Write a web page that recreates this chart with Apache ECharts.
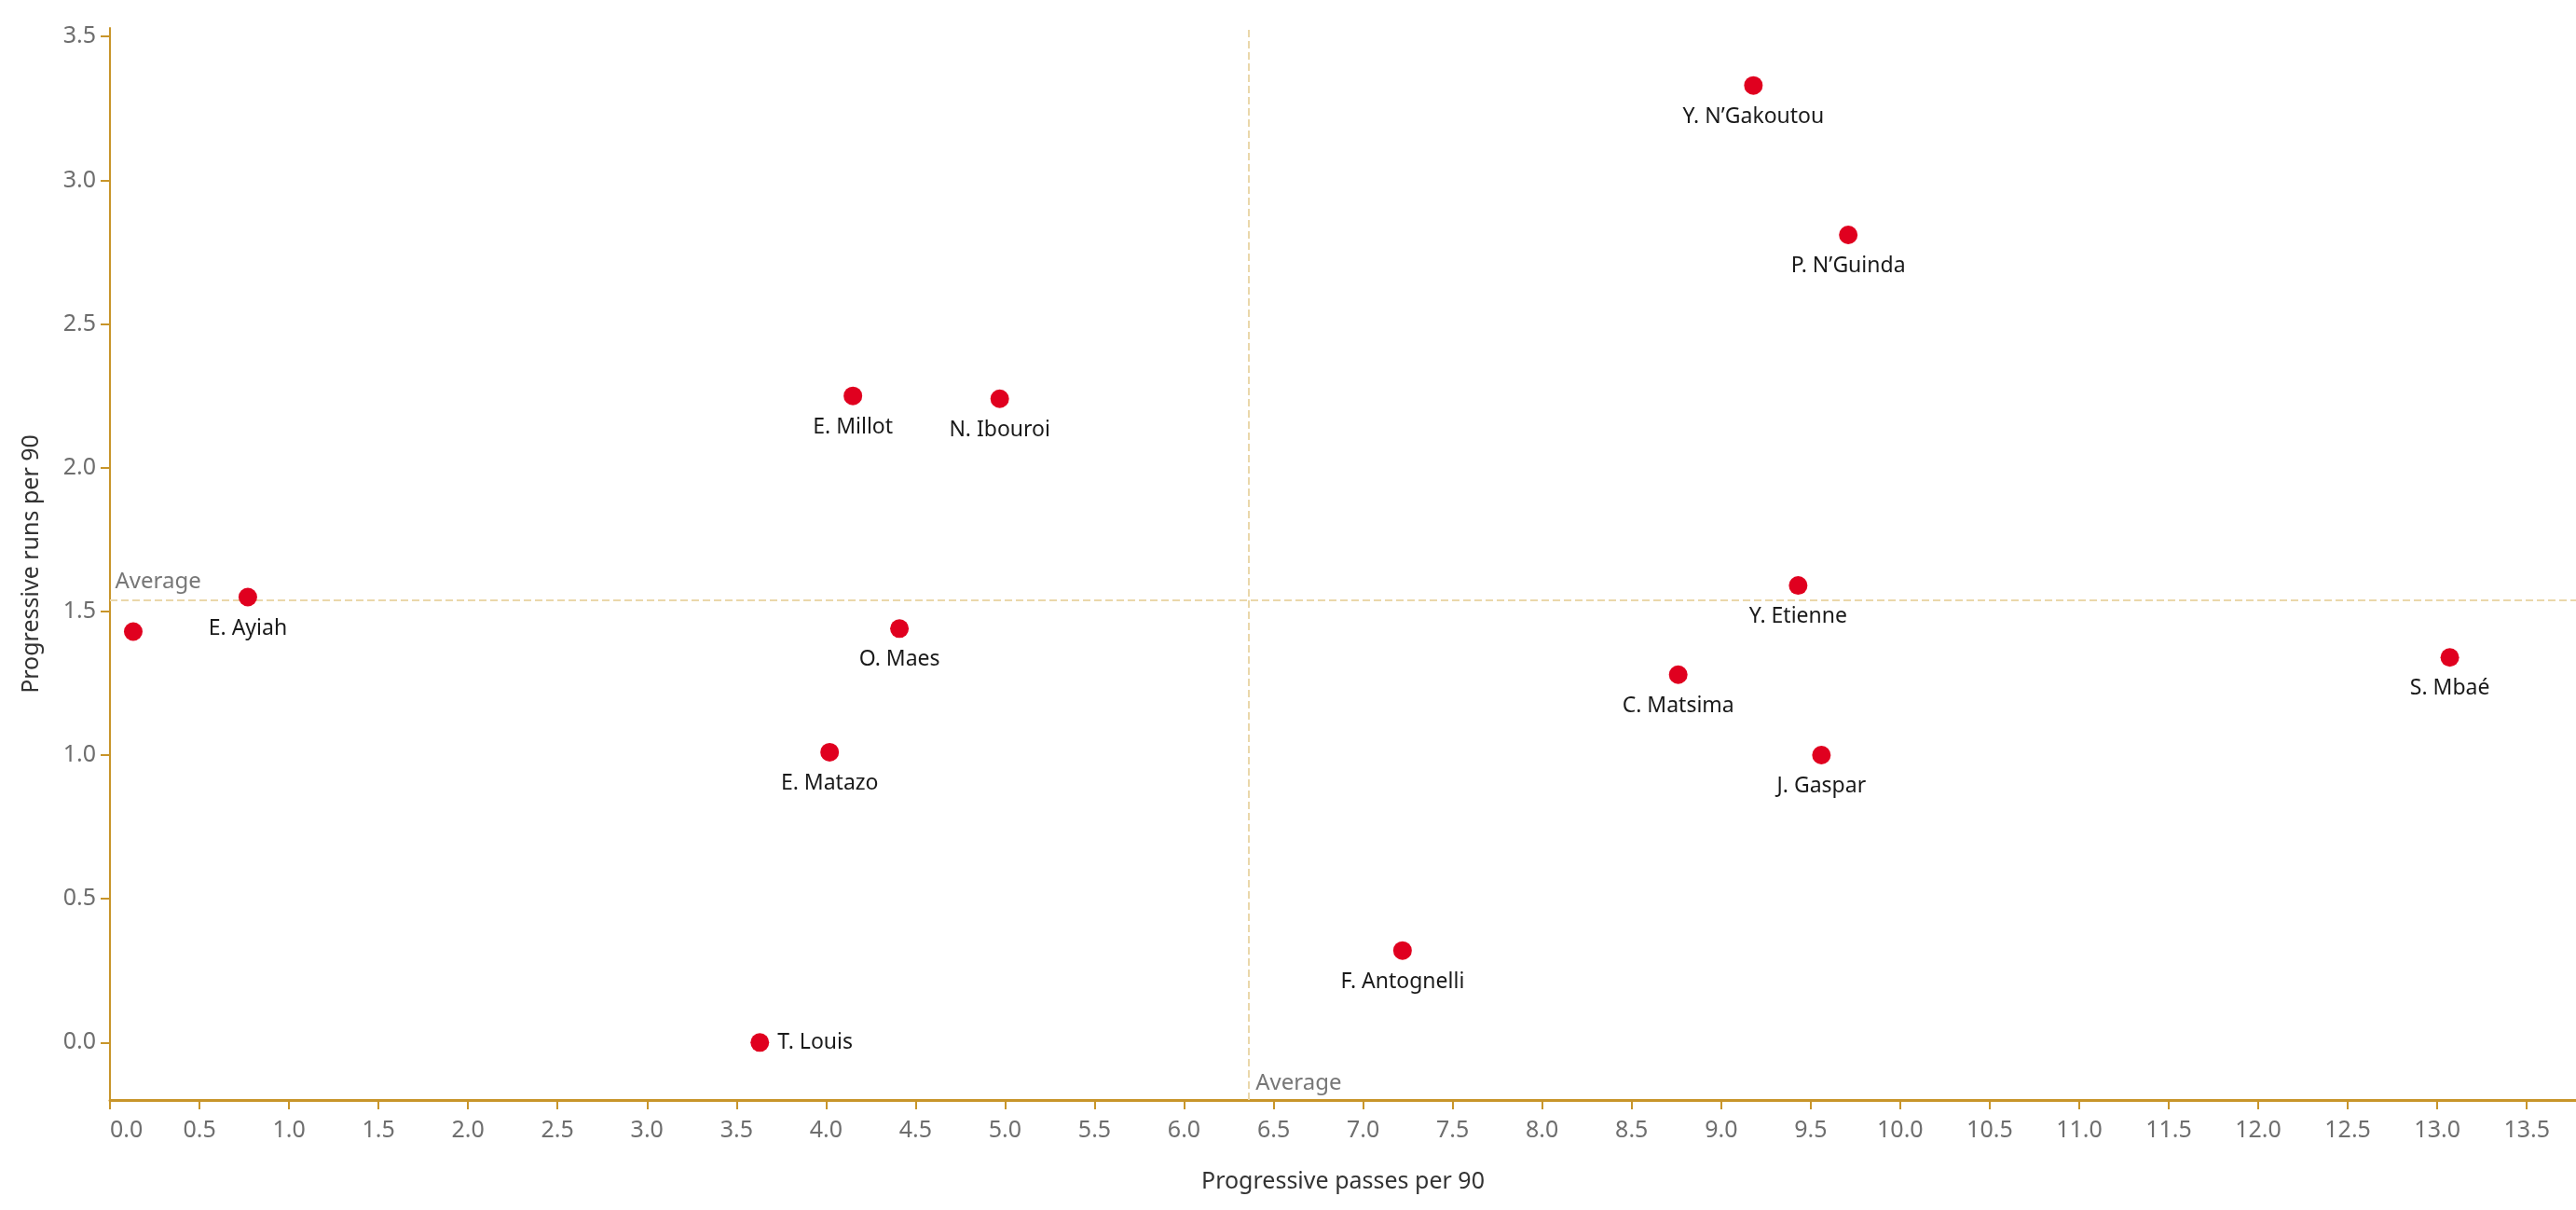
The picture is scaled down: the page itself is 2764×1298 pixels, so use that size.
<!DOCTYPE html>
<html>
<head>
<meta charset="utf-8">
<script src="https://cdn.jsdelivr.net/npm/echarts@6/dist/echarts.min.js"></script>
<style>
html,body{margin:0;padding:0;background:#fff;}
#chart{width:2764px;height:1298px;}
</style>
</head>
<body>
<div id="chart"></div>
<script>
// ---- data ----
const players = ['Y. N\u2019Gakoutou','P. N\u2019Guinda','E. Millot','N. Ibouroi','E. Ayiah','','O. Maes','Y. Etienne','C. Matsima','S. Mbaé','E. Matazo','J. Gaspar','F. Antognelli','T. Louis'];
const progPasses = [9.18, 9.71, 4.15, 4.97, 0.77, 0.13, 4.41, 9.43, 8.76, 13.07, 4.02, 9.56, 7.22, 3.63];
const progRuns   = [3.33, 2.81, 2.25, 2.24, 1.55, 1.43, 1.44, 1.59, 1.28, 1.34, 1.01, 1.00, 0.32, 0.00];
const xTicks = [0,0.5,1,1.5,2,2.5,3,3.5,4,4.5,5,5.5,6,6.5,7,7.5,8,8.5,9,9.5,10,10.5,11,11.5,12,12.5,13,13.5];
const yTicks = [0,0.5,1,1.5,2,2.5,3,3.5];
const avgPasses = 6.36;
const avgRuns = 1.545;
const xMin = 0, xMax = 13.775;
const yMin = -0.2, yMax = 3.53;
const rightLabelPlayers = ['T. Louis'];

// ---- style ----
const axisColor = '#c8952a';
const avgColor = '#ead7aa';
const dotColor = '#e0001f';
const FONT = 'Noto Sans';

const points = players.map((n, i) => {
  const d = { name: n, value: [progPasses[i], progRuns[i]] };
  if (!n) d.label = { show: false };
  else if (rightLabelPlayers.includes(n)) d.label = { position: 'right', distance: 9 };
  return d;
});

const chart = echarts.init(document.getElementById('chart'), null, { renderer: 'canvas' });
chart.setOption({
  backgroundColor: '#fff',
  animation: false,
  grid: { left: 118, right: 0, top: 30, bottom: 118, containLabel: false, outerBoundsMode: 'none' },
  xAxis: {
    type: 'value', min: xMin, max: xMax,
    name: 'Progressive passes per 90', nameLocation: 'middle', nameGap: 75,
    nameTextStyle: { fontFamily: FONT, fontSize: 25, color: '#333' },
    axisLine: { show: true, onZero: false, lineStyle: { color: axisColor, width: 3 } },
    axisTick: { show: true, length: 10, lineStyle: { color: axisColor, width: 2 }, customValues: xTicks },
    axisLabel: { customValues: xTicks, formatter: v => v.toFixed(1), fontFamily: FONT, fontSize: 25, color: '#6e6e6e', margin: 20, alignMinLabel: 'left' },
    splitLine: { show: false }
  },
  yAxis: {
    type: 'value', min: yMin, max: yMax,
    name: 'Progressive runs per 90', nameLocation: 'middle', nameGap: 72,
    nameTextStyle: { fontFamily: FONT, fontSize: 25, color: '#333' },
    axisLine: { show: true, onZero: false, lineStyle: { color: axisColor, width: 2 } },
    axisTick: { show: true, length: 10, lineStyle: { color: axisColor, width: 2 }, customValues: yTicks },
    axisLabel: { customValues: yTicks, formatter: v => v.toFixed(1), fontFamily: FONT, fontSize: 25, color: '#6e6e6e', margin: 15 },
    splitLine: { show: false }
  },
  series: [{
    type: 'scatter',
    symbol: 'circle',
    symbolSize: 20,
    itemStyle: { color: dotColor, opacity: 1 },
    data: points,
    label: {
      show: true, position: 'bottom', distance: 12,
      formatter: p => p.name,
      fontFamily: FONT, fontSize: 23, color: '#1a1a1a'
    },
    markLine: {
      silent: true, symbol: 'none', z: 1,
      label: { show: false },
      lineStyle: { color: avgColor, type: [8, 4], width: 2, opacity: 1 },
      data: [{ xAxis: avgPasses }, { yAxis: avgRuns }]
    },
    markPoint: {
      silent: true,
      symbol: 'rect', symbolSize: 1,
      itemStyle: { color: 'rgba(0,0,0,0)' },
      label: { show: true, position: 'right', distance: 5, offset: [0, -18], fontFamily: FONT, fontSize: 24, color: '#777', formatter: 'Average' },
      data: [
        { coord: [xMin, avgRuns] },
        { coord: [avgPasses, yMin], label: { distance: 7 } }
      ]
    },
    z: 3
  }]
});
</script>
</body>
</html>
